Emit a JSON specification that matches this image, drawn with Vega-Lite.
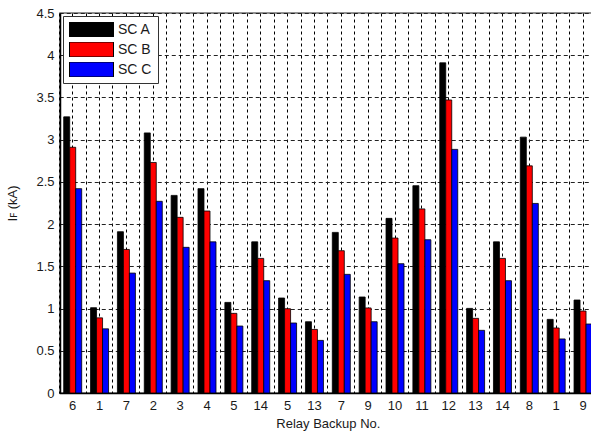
{
  "$schema": "https://vega.github.io/schema/vega-lite/v6.json",
  "autosize": "none",
  "width": 532,
  "height": 380,
  "padding": {"left": 60, "top": 13, "right": 0, "bottom": 41},
  "background": "white",
  "config": {
    "font": "Liberation Sans",
    "view": {"stroke": "#6e6e6e", "strokeWidth": 1.5},
    "axis": {"labelFont": "Liberation Sans", "titleFont": "Liberation Sans", "labelColor": "#1a1a1a", "titleColor": "#1a1a1a", "titleFontWeight": "normal"}
  },
  "data": {"values": [
    {"idx": 1, "series": "SC A", "value": 3.27}, {"idx": 1, "series": "SC B", "value": 2.91}, {"idx": 1, "series": "SC C", "value": 2.42},
    {"idx": 2, "series": "SC A", "value": 1.01}, {"idx": 2, "series": "SC B", "value": 0.89}, {"idx": 2, "series": "SC C", "value": 0.76},
    {"idx": 3, "series": "SC A", "value": 1.91}, {"idx": 3, "series": "SC B", "value": 1.70}, {"idx": 3, "series": "SC C", "value": 1.42},
    {"idx": 4, "series": "SC A", "value": 3.08}, {"idx": 4, "series": "SC B", "value": 2.73}, {"idx": 4, "series": "SC C", "value": 2.27},
    {"idx": 5, "series": "SC A", "value": 2.34}, {"idx": 5, "series": "SC B", "value": 2.08}, {"idx": 5, "series": "SC C", "value": 1.725},
    {"idx": 6, "series": "SC A", "value": 2.42}, {"idx": 6, "series": "SC B", "value": 2.155}, {"idx": 6, "series": "SC C", "value": 1.79},
    {"idx": 7, "series": "SC A", "value": 1.073}, {"idx": 7, "series": "SC B", "value": 0.943}, {"idx": 7, "series": "SC C", "value": 0.793},
    {"idx": 8, "series": "SC A", "value": 1.79}, {"idx": 8, "series": "SC B", "value": 1.594}, {"idx": 8, "series": "SC C", "value": 1.33},
    {"idx": 9, "series": "SC A", "value": 1.125}, {"idx": 9, "series": "SC B", "value": 0.998}, {"idx": 9, "series": "SC C", "value": 0.829},
    {"idx": 10, "series": "SC A", "value": 0.844}, {"idx": 10, "series": "SC B", "value": 0.753}, {"idx": 10, "series": "SC C", "value": 0.623},
    {"idx": 11, "series": "SC A", "value": 1.902}, {"idx": 11, "series": "SC B", "value": 1.685}, {"idx": 11, "series": "SC C", "value": 1.405},
    {"idx": 12, "series": "SC A", "value": 1.137}, {"idx": 12, "series": "SC B", "value": 1.007}, {"idx": 12, "series": "SC C", "value": 0.844},
    {"idx": 13, "series": "SC A", "value": 2.068}, {"idx": 13, "series": "SC B", "value": 1.835}, {"idx": 13, "series": "SC C", "value": 1.531},
    {"idx": 14, "series": "SC A", "value": 2.455}, {"idx": 14, "series": "SC B", "value": 2.18}, {"idx": 14, "series": "SC C", "value": 1.815},
    {"idx": 15, "series": "SC A", "value": 3.91}, {"idx": 15, "series": "SC B", "value": 3.47}, {"idx": 15, "series": "SC C", "value": 2.885},
    {"idx": 16, "series": "SC A", "value": 1.002}, {"idx": 16, "series": "SC B", "value": 0.884}, {"idx": 16, "series": "SC C", "value": 0.742},
    {"idx": 17, "series": "SC A", "value": 1.79}, {"idx": 17, "series": "SC B", "value": 1.594}, {"idx": 17, "series": "SC C", "value": 1.33},
    {"idx": 18, "series": "SC A", "value": 3.03}, {"idx": 18, "series": "SC B", "value": 2.69}, {"idx": 18, "series": "SC C", "value": 2.245},
    {"idx": 19, "series": "SC A", "value": 0.872}, {"idx": 19, "series": "SC B", "value": 0.77}, {"idx": 19, "series": "SC C", "value": 0.64},
    {"idx": 20, "series": "SC A", "value": 1.101}, {"idx": 20, "series": "SC B", "value": 0.971}, {"idx": 20, "series": "SC C", "value": 0.817}
  ]},
  "resolve": {"axis": {"x": "independent"}},
  "layer": [
    {
      "mark": {"type": "tick", "opacity": 0},
      "encoding": {
        "x": {"field": "idx", "type": "ordinal",
          "scale": {"type": "band", "range": [-0.73, 536.47], "paddingInner": 0, "paddingOuter": 0},
          "axis": {"orient": "top", "title": null, "labels": false, "ticks": false, "domain": false, "grid": true, "bandPosition": 0, "gridColor": "#000", "gridDash": [3, 3], "gridWidth": 1, "gridOpacity": 1}}
      }
    },
    {
      "mark": {"type": "bar", "stroke": "black", "strokeWidth": 0.8, "clip": true},
      "encoding": {
        "x": {"field": "idx", "type": "ordinal",
          "axis": {"orient": "bottom", "title": "Relay Backup No.", "titleFontSize": 13, "titlePadding": 5, "labelAngle": 0, "labelFontSize": 13, "labelPadding": 6, "ticks": false, "domain": true, "domainColor": "black", "domainWidth": 1.5, "grid": true, "bandPosition": 0.5, "gridColor": "#000", "gridDash": [3, 3], "gridWidth": 1, "gridOpacity": 1,
            "labelExpr": "['6','1','7','2','3','4','5','14','5','13','7','9','10','11','12','13','14','8','1','9'][datum.value - 1]"}},
        "xOffset": {"field": "series", "type": "nominal", "scale": {"paddingInner": 0, "paddingOuter": 0.738}},
        "y": {"field": "value", "type": "quantitative",
          "scale": {"domain": [0, 4.5], "nice": false},
          "axis": {"title": "Iꜰ (kA)", "titleFontSize": 13, "titlePadding": 16, "values": [0, 0.5, 1, 1.5, 2, 2.5, 3, 3.5, 4, 4.5], "format": "~g", "labelFontSize": 13, "labelPadding": 6, "ticks": false, "domainColor": "black", "domainWidth": 1.5, "gridColor": "#222", "gridDash": [4, 3], "gridWidth": 1, "gridOpacity": 1}},
        "color": {"field": "series", "type": "nominal",
          "scale": {"domain": ["SC A", "SC B", "SC C"], "range": ["#000000", "#ff0000", "#0000ff"]},
          "legend": {"title": null, "orient": "top-left", "offset": 3, "fillColor": "white", "strokeColor": "#333", "padding": 6,
            "symbolType": "M-1,-0.34H1V0.34H-1Z", "symbolSize": 1936, "clipHeight": 15, "symbolStrokeColor": "black", "symbolStrokeWidth": 1, "symbolOpacity": 1,
            "labelFontSize": 14, "labelColor": "#1a1a1a", "labelOffset": 4, "rowPadding": 5}}
      }
    }
  ]
}
